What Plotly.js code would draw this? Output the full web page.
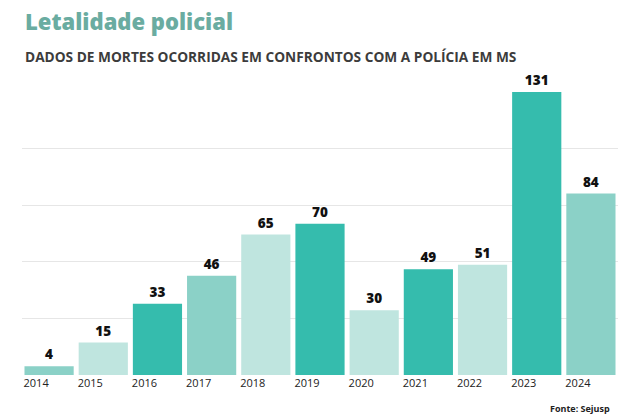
<!DOCTYPE html>
<html>
<head>
<meta charset="utf-8">
<script src="https://cdn.plot.ly/plotly-3.0.1.min.js"></script>
<style>html,body{margin:0;padding:0;background:#fff;}#chart{width:630px;height:417px;}</style>
</head>
<body>
<div id="chart"></div>
<script>
var years = ['2014','2015','2016','2017','2018','2019','2020','2021','2022','2023','2024'];
var deaths = [4, 15, 33, 46, 65, 70, 30, 49, 51, 131, 84];
var barColors = ['#8bd1c7','#bfe5df','#35bcad','#8bd1c7','#bfe5df','#35bcad','#bfe5df','#35bcad','#bfe5df','#35bcad','#8bd1c7'];
var titleText = 'Letalidade policial';
var subtitleText = 'DADOS DE MORTES OCORRIDAS EM CONFRONTOS COM A POLÍCIA EM MS';
var sourceText = 'Fonte: Sejusp';

var gridStep = 131 / 5;
var gridVals = [0,1,2,3,4,5].map(function(i){return i*gridStep;});

var trace = {
  type: 'bar',
  x: years,
  y: deaths,
  marker: {color: barColors, line: {width: 0}},
  text: deaths.map(String),
  textposition: 'outside',
  cliponaxis: false,
  textfont: {family: 'Open Sans, sans-serif', size: 13.5, color: '#111', weight: 800},
  hoverinfo: 'skip'
};

var layout = {
  width: 630, height: 417,
  margin: {l: 22, r: 12, t: 92, b: 42},
  paper_bgcolor: '#fff', plot_bgcolor: '#fff',
  bargap: 0.092,
  showlegend: false,
  xaxis: {
    type: 'category',
    showgrid: false, zeroline: false, showline: false,
    ticks: '',
    ticklabelshift: -13,
    tickfont: {family: 'Open Sans, sans-serif', size: 11, color: '#222'},
    fixedrange: true
  },
  yaxis: {
    range: [0, 131],
    tickvals: gridVals,
    showticklabels: false,
    showgrid: true, gridcolor: '#e6e6e6', gridwidth: 1,
    zeroline: false, showline: false,
    fixedrange: true
  },
  annotations: [
    {text: titleText, xref: 'paper', yref: 'paper', x: 0, y: 1, xanchor: 'left', yanchor: 'bottom', xshift: 1, yshift: 54, showarrow: false,
     font: {family: 'Open Sans, sans-serif', size: 22, color: '#6aaca1', weight: 800}},
    {text: subtitleText, xref: 'paper', yref: 'paper', x: 0, y: 1, xanchor: 'left', yanchor: 'bottom', xshift: 1, yshift: 24, showarrow: false,
     font: {family: 'Open Sans, sans-serif', size: 13.7, color: '#3c3c3c', weight: 700}},
    {text: sourceText, xref: 'paper', yref: 'paper', x: 1, y: 0, xanchor: 'right', yanchor: 'top', xshift: -6, yshift: -25, showarrow: false,
     font: {family: 'Open Sans, sans-serif', size: 9, color: '#222', weight: 700}}
  ]
};

Plotly.newPlot('chart', [trace], layout, {displayModeBar: false, staticPlot: true});
</script>
</body>
</html>
